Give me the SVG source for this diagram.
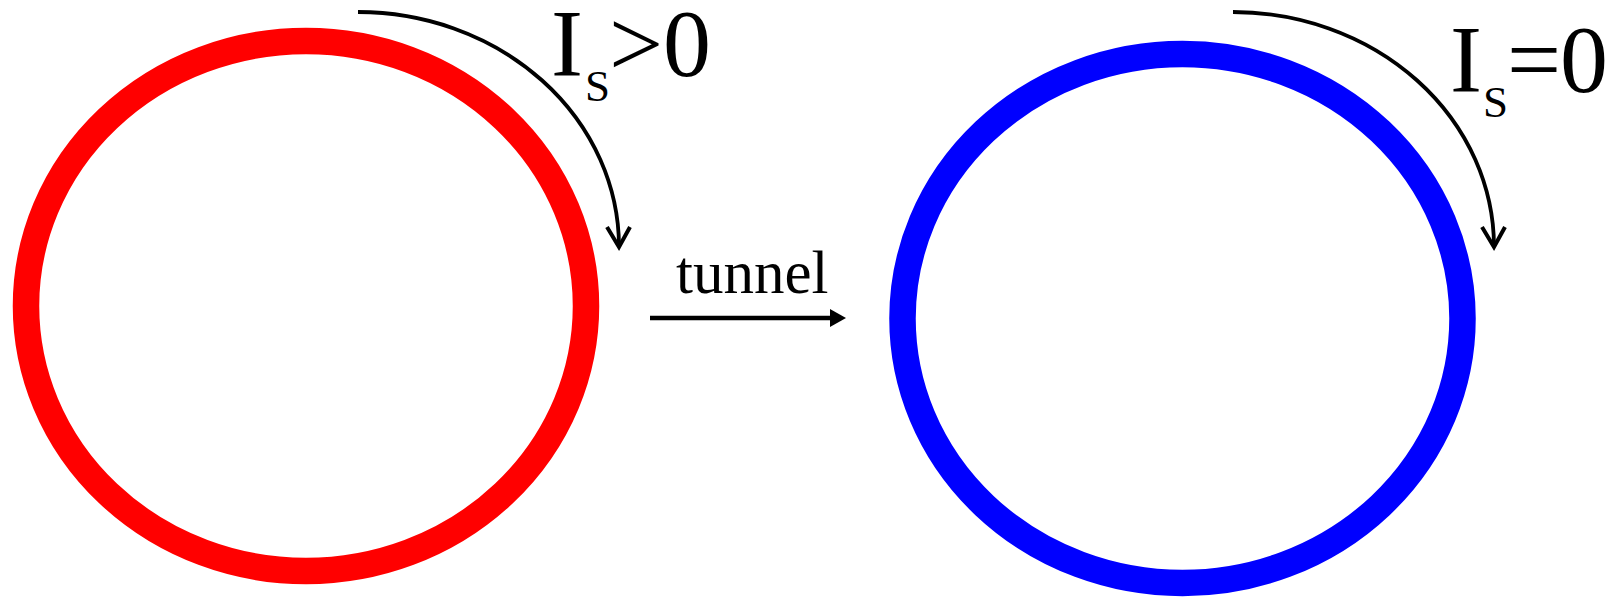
<svg xmlns="http://www.w3.org/2000/svg" width="1616" height="597" viewBox="0 0 1616 597">
<style>
.ring{fill:none;stroke-width:26.5}
.curr{fill:none;stroke:#000;stroke-width:3.8}
.head{fill:none;stroke:#000;stroke-width:4;stroke-linejoin:miter;stroke-linecap:butt}
.big{font-family:"Liberation Serif","Times New Roman",serif;font-size:96px;fill:#000}
.sub{font-family:"Liberation Serif","Times New Roman",serif;font-size:45px;fill:#000}
.lbl{font-family:"Liberation Serif","Times New Roman",serif;font-size:61px;fill:#000}
</style>
<rect width="1616" height="597" fill="#fff"/>
<g id="ring-left">
<ellipse class="ring" cx="306" cy="306" rx="280" ry="265" stroke="#FF0000"/>
</g>
<g id="ring-right">
<ellipse class="ring" cx="1182.5" cy="318.5" rx="280" ry="264.5" stroke="#0000FF"/>
</g>
<g id="label-left">
<text class="big" x="551" y="76">I</text>
<text class="sub" x="585" y="100.5">S</text>
<text class="big" x="609" y="76">&gt;</text>
<text class="big" x="663" y="76">0</text>
</g>
<g id="label-right">
<text class="big" x="1450" y="92">I</text>
<text class="sub" x="1483" y="117">S</text>
<text class="big" x="1507" y="92">=</text>
<text class="big" x="1560" y="92">0</text>
</g>
<g id="label-tunnel">
<text class="lbl" x="676" y="293">tunnel</text>
</g>
<g id="connectors">
<path class="curr" d="M358,12 A261,235 0 0 1 619,246"/>
<path class="head" d="M607,227 L619,247 L630,227"/>
<path class="curr" d="M1233,12 A261,235 0 0 1 1494,246"/>
<path class="head" d="M1482,227 L1494,247 L1505,227"/>
<path d="M650,318 L834,318" stroke="#000" stroke-width="4.5"/>
<path d="M830,309 L846,318 L830,327 Z" fill="#000"/>
</g>
</svg>
